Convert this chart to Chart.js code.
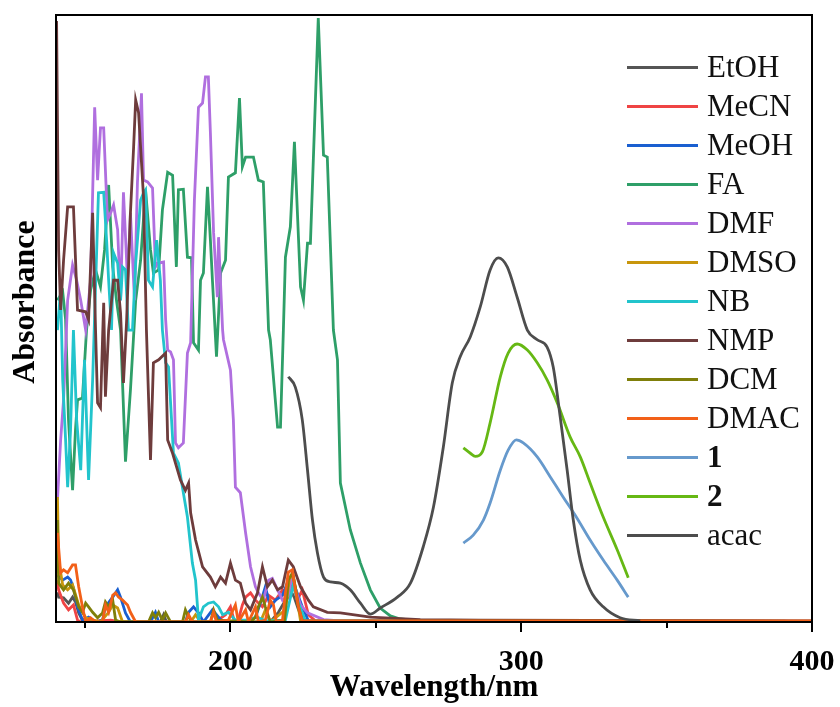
<!DOCTYPE html>
<html>
<head>
<meta charset="utf-8">
<title>UV-Vis absorbance</title>
<script src="https://cdn.jsdelivr.net/npm/chart.js@4.4.1/dist/chart.umd.min.js"></script>
<style>
  html, body { margin: 0; padding: 0; background: #fff; }
  #wrap { width: 840px; height: 707px; }
</style>
</head>
<body>
<div id="wrap"><canvas id="uvChart" width="840" height="707"></canvas></div>
<script>
// wavelength range and axis ticks (nm)
const wavelengthRange = [140, 400];
const majorTicks = [200, 300, 400];
const minorTicks = [150, 250, 350];

// spectra as [wavelength nm, absorbance (normalised)]
const EtOH = [[140.5,0.049],[140.9,0.041],[142.6,0.040],[144.3,0.031],[145.7,0.041],[146.7,0.033],[147.8,0.015],[149.1,0.003],[151.9,0],[175.9,0],[177.0,0.012],[178.0,0],[213.7,0],[216.5,0.016],[218.9,0.036],[220.6,0.053],[222.0,0.040],[223.4,0.020],[225.1,0.002],[400,0.001]];

const MeCN = [[140.5,0.069],[140.9,0.053],[142.6,0.031],[144.3,0.020],[146.0,0.028],[147.4,0.003],[148.5,0],[158.8,0.003],[162.2,0],[194.8,0],[198.3,0.012],[200.0,0.025],[201.4,0],[202.7,0.003],[204.1,0.028],[205.2,0.041],[206.9,0.048],[208.6,0.036],[211.0,0.025],[213.1,0.044],[215.5,0.036],[217.9,0.053],[219.9,0.041],[221.6,0.064],[223.0,0.036],[224.7,0.053],[226.8,0.012],[229.2,0.002],[400,0.001]];

const MeOH = [[140.5,0.077],[142.3,0.069],[144.0,0.074],[145.0,0.069],[146.0,0.056],[147.4,0.025],[149.1,0.003],[151.2,0.008],[153.6,0],[156.0,0.003],[157.0,0.025],[159.5,0.041],[161.2,0.053],[162.2,0.041],[163.9,0.015],[165.6,0],[172.5,0],[174.2,0.016],[175.3,0],[184.5,0],[185.6,0.016],[187.3,0.025],[189.0,0.015],[190.7,0],[193.8,0.020],[195.9,0.008],[197.3,0],[205.2,0],[208.6,0.008],[210.3,0.031],[212.0,0.058],[213.7,0.025],[215.5,0.036],[217.9,0.044],[219.9,0.069],[222.3,0.056],[224.7,0.025],[226.8,0.002],[400,0.001]];

const FA = [[140.5,0.530],[142.3,0.544],[143.3,0.498],[144.3,0.333],[145.7,0.217],[146.7,0.316],[147.4,0.366],[149.1,0.369],[150.5,0.481],[151.9,0.547],[153.6,0.580],[155.3,0.552],[156.7,0.613],[158.1,0.720],[159.5,0.585],[160.8,0.530],[162.2,0.481],[163.9,0.264],[165.6,0.382],[167.4,0.530],[169.1,0.596],[170.8,0.712],[172.5,0.613],[173.5,0.575],[175.3,0.580],[176.6,0.679],[178.4,0.741],[180.1,0.736],[181.4,0.585],[182.1,0.712],[183.8,0.713],[185.2,0.601],[186.6,0.600],[187.3,0.460],[189.0,0.448],[189.7,0.563],[190.7,0.575],[192.1,0.717],[193.1,0.629],[193.8,0.563],[195.2,0.437],[196.6,0.575],[198.3,0.596],[199.3,0.733],[201.7,0.740],[203.1,0.863],[204.1,0.750],[205.2,0.766],[207.9,0.766],[209.6,0.728],[211.3,0.725],[213.1,0.481],[213.7,0.465],[216.2,0.321],[217.2,0.321],[218.2,0.481],[218.9,0.601],[220.6,0.651],[222.0,0.791],[224.1,0.552],[225.1,0.530],[226.5,0.624],[227.5,0.624],[230.2,0.995],[232.0,0.769],[233.3,0.766],[235.4,0.481],[236.8,0.432],[237.8,0.229],[241.2,0.152],[244.7,0.097],[248.1,0.053],[251.5,0.023],[255.0,0.010],[258.4,0.005],[265.3,0.002],[275.6,0.001],[400,0.001]];

const DMF = [[140.5,0.201],[141.6,0.300],[142.6,0.366],[144.0,0.530],[145.7,0.588],[147.1,0.563],[148.5,0.530],[150.2,0.481],[151.9,0.563],[153.3,0.848],[154.3,0.728],[155.3,0.814],[156.4,0.814],[157.7,0.662],[158.8,0.674],[159.8,0.687],[161.2,0.646],[162.2,0.530],[163.2,0.708],[164.6,0.563],[165.6,0.674],[167.0,0.530],[168.0,0.723],[169.4,0.871],[170.1,0.728],[171.5,0.725],[173.2,0.715],[174.2,0.585],[174.9,0.591],[177.0,0.593],[177.7,0.498],[178.4,0.448],[179.4,0.445],[180.4,0.432],[181.1,0.295],[182.1,0.287],[183.8,0.295],[185.2,0.443],[186.3,0.460],[187.6,0.695],[189.0,0.848],[190.4,0.855],[191.4,0.898],[192.4,0.898],[193.1,0.806],[194.2,0.641],[195.5,0.535],[195.9,0.634],[197.3,0.481],[197.6,0.465],[200.0,0.415],[201.0,0.333],[201.7,0.222],[203.4,0.213],[205.2,0.147],[206.9,0.091],[208.6,0.058],[209.6,0.048],[211.3,0.036],[213.1,0.069],[214.4,0.072],[216.2,0.053],[217.9,0.036],[219.9,0.044],[221.3,0.077],[222.7,0.049],[224.1,0.028],[226.5,0.015],[232.0,0.004],[237.8,0.002],[400,0.001]];

const DMSO = [[140.5,0.206],[140.9,0.102],[142.3,0.061],[144.0,0.053],[145.7,0.061],[147.8,0.028],[150.2,0.007],[155.3,0],[158.1,0.016],[159.5,0.028],[161.2,0.023],[162.9,0],[186.3,0],[188.0,0.012],[189.7,0],[210.3,0],[212.0,0.020],[213.7,0],[218.9,0.020],[220.3,0.072],[221.6,0.077],[222.7,0.044],[224.1,0.002],[400,0.001]];

const NB = [[140.5,0.481],[141.6,0.547],[142.3,0.399],[143.3,0.300],[144.0,0.222],[145.0,0.316],[146.0,0.481],[147.1,0.333],[148.5,0.250],[149.8,0.432],[151.2,0.234],[152.6,0.399],[154.0,0.613],[154.6,0.707],[156.4,0.708],[157.4,0.629],[158.1,0.563],[159.1,0.481],[159.8,0.608],[161.2,0.591],[162.2,0.530],[162.9,0.585],[163.9,0.580],[164.9,0.481],[166.3,0.481],[167.4,0.591],[169.1,0.695],[170.1,0.707],[170.8,0.712],[171.8,0.563],[173.2,0.552],[174.6,0.629],[175.9,0.563],[176.6,0.481],[177.7,0.427],[178.7,0.420],[180.4,0.278],[182.1,0.262],[183.8,0.213],[185.2,0.173],[186.9,0.097],[188.0,0.069],[189.0,0.003],[190.7,0.025],[192.4,0.031],[194.2,0.033],[195.9,0.025],[197.3,0.012],[199.3,0.016],[201.7,0.003],[205.2,0.003],[209.3,0.008],[212.0,0.002],[218.9,0.003],[221.6,0.061],[223.0,0.036],[225.8,0.002],[400,0.001]];

const NMP = [[140.2,0.990],[140.5,0.827],[140.9,0.613],[141.6,0.514],[142.6,0.596],[144.0,0.684],[146.0,0.684],[147.4,0.514],[150.2,0.511],[151.2,0.498],[152.6,0.674],[153.6,0.481],[154.3,0.361],[155.3,0.353],[156.0,0.465],[156.4,0.526],[157.0,0.371],[158.1,0.481],[159.8,0.563],[161.2,0.563],[162.2,0.509],[163.2,0.394],[164.3,0.498],[165.6,0.674],[166.7,0.783],[167.4,0.860],[168.4,0.839],[170.1,0.700],[171.1,0.481],[172.5,0.267],[173.5,0.427],[175.3,0.432],[177.0,0.440],[177.7,0.443],[178.4,0.300],[180.1,0.278],[182.8,0.234],[184.5,0.217],[185.6,0.229],[186.3,0.180],[188.0,0.135],[190.4,0.091],[193.1,0.074],[194.8,0.058],[196.6,0.074],[198.3,0.064],[200.0,0.097],[201.7,0.069],[203.4,0.064],[205.2,0.031],[206.9,0.020],[209.3,0.048],[211.0,0.091],[212.7,0.058],[214.4,0.069],[216.2,0.053],[217.9,0.058],[219.9,0.102],[221.6,0.091],[224.1,0.058],[226.8,0.036],[228.5,0.025],[233.3,0.016],[237.8,0.015],[248.1,0.008],[265.3,0.004],[285.9,0.003],[400,0.002]];

const DCM = [[140.5,0.168],[140.9,0.064],[142.6,0.053],[144.3,0.064],[146.0,0.053],[147.8,0.025],[149.1,0.016],[150.2,0.031],[151.2,0.025],[152.6,0.016],[154.3,0.007],[156.0,0.015],[157.0,0.033],[158.1,0.025],[159.5,0.036],[160.5,0.003],[162.2,0],[171.8,0],[173.2,0.015],[174.2,0.007],[175.3,0.016],[176.6,0.003],[177.7,0.015],[179.4,0],[183.5,0],[184.5,0.020],[185.6,0.008],[186.9,0],[193.1,0],[194.2,0.020],[195.5,0.003],[206.9,0],[208.6,0.008],[209.6,0.025],[211.0,0.041],[212.0,0.025],[213.7,0],[218.6,0.003],[219.9,0.069],[221.3,0.081],[222.3,0.058],[223.4,0.025],[224.7,0.002],[400,0.001]];

const DMAC = [[140.5,0.147],[141.6,0.081],[142.6,0.086],[144.0,0.081],[145.7,0.094],[146.7,0.094],[147.8,0.058],[149.1,0.025],[150.2,0],[151.9,0.007],[153.6,0],[156.0,0],[157.0,0.028],[158.1,0.016],[159.5,0.044],[160.5,0.048],[161.5,0.041],[162.9,0.036],[164.6,0.028],[165.6,0.016],[167.4,0],[184.5,0],[185.6,0.012],[186.9,0],[193.1,0],[194.2,0.016],[195.2,0],[199.3,0.003],[201.7,0.028],[202.7,0],[205.2,0.020],[206.2,0],[208.6,0.025],[209.6,0],[212.0,0.003],[213.7,0.036],[214.8,0.028],[215.8,0],[217.9,0.003],[218.9,0.048],[219.9,0.082],[221.3,0.086],[222.3,0.053],[223.4,0.025],[224.7,0.002],[400,0.002]];

const sample1 = [[280.1,0.130],[283.5,0.143],[287.0,0.168],[289.3,0.196],[292.8,0.250],[295.5,0.283],[298.3,0.300],[300.7,0.295],[305.5,0.272],[310.0,0.239],[314.4,0.206],[319.2,0.171],[323.7,0.135],[328.2,0.102],[333.0,0.069],[336.8,0.041]];

const sample2 = [[280.1,0.287],[282.5,0.278],[284.2,0.273],[286.6,0.280],[289.3,0.328],[292.8,0.404],[295.5,0.443],[298.6,0.458],[302.1,0.448],[305.5,0.427],[308.9,0.399],[312.4,0.361],[316.8,0.305],[320.3,0.272],[323.7,0.229],[328.2,0.173],[333.0,0.119],[336.8,0.073]];

const acac = [[219.9,0.404],[222.3,0.387],[224.7,0.333],[226.5,0.250],[228.2,0.168],[229.9,0.114],[232.0,0.074],[234.4,0.066],[237.8,0.064],[241.2,0.053],[244.7,0.031],[248.1,0.013],[251.5,0.023],[257.4,0.041],[261.9,0.064],[266.3,0.124],[269.8,0.189],[273.2,0.288],[276.3,0.394],[279.0,0.437],[282.5,0.470],[285.9,0.519],[289.3,0.580],[292.1,0.600],[295.2,0.585],[298.6,0.535],[302.1,0.481],[305.5,0.465],[308.9,0.453],[311.0,0.420],[313.4,0.338],[315.8,0.250],[317.9,0.168],[320.3,0.102],[323.7,0.053],[328.2,0.025],[334.0,0.007],[340.9,0.002]];

const seriesLabels = ['EtOH', 'MeCN', 'MeOH', 'FA', 'DMF', 'DMSO', 'NB', 'NMP', 'DCM', 'DMAC', '1', '2', 'acac'];
const seriesData = [EtOH, MeCN, MeOH, FA, DMF, DMSO, NB, NMP, DCM, DMAC, sample1, sample2, acac];
const seriesColors = ['#555555', '#ef4444', '#1a5fd0', '#2e9f68', '#b06fdf', '#c8960c', '#22c4cc', '#6e3c3c', '#7f7f0a', '#f26018', '#6699cc', '#66b814', '#4d4d4d'];
const boldLabels = ['1', '2'];
const smoothSeries = ['1', '2', 'acac'];

const serif = '"Liberation Serif", "Times New Roman", serif';

// box frame, outward tick marks and the y title
const framePlugin = {
    id: 'frame',
    afterDraw(chart) {
        const ctx = chart.ctx;
        const area = chart.chartArea;
        const xScale = chart.scales.x;
        ctx.save();
        ctx.strokeStyle = '#000';
        ctx.lineWidth = 2;
        ctx.strokeRect(area.left, area.top, area.right - area.left, area.bottom - area.top);
        ctx.beginPath();
        majorTicks.forEach(v => {
            const px = Math.round(xScale.getPixelForValue(v));
            ctx.moveTo(px, area.bottom);
            ctx.lineTo(px, area.bottom + 10);
        });
        minorTicks.forEach(v => {
            const px = Math.round(xScale.getPixelForValue(v));
            ctx.moveTo(px, area.bottom);
            ctx.lineTo(px, area.bottom + 6);
        });
        ctx.stroke();

        ctx.translate(26, 302);
        ctx.rotate(-Math.PI / 2);
        ctx.fillStyle = '#000';
        ctx.font = 'bold 32px ' + serif;
        ctx.textAlign = 'center';
        ctx.textBaseline = 'middle';
        ctx.fillText('Absorbance', 0, 0);
        ctx.restore();
    }
};

// legend list drawn inside the plot, right side
const insideLegend = {
    id: 'insideLegend',
    afterDraw(chart) {
        const ctx = chart.ctx;
        const lineStart = 627, lineEnd = 698, textX = 707, firstRow = 67.5, rowGap = 39;
        ctx.save();
        chart.data.datasets.forEach((ds, i) => {
            const y = firstRow + i * rowGap;
            ctx.strokeStyle = ds.borderColor;
            ctx.lineWidth = 3;
            ctx.beginPath();
            ctx.moveTo(lineStart, y);
            ctx.lineTo(lineEnd, y);
            ctx.stroke();
            ctx.fillStyle = '#111';
            ctx.font = (boldLabels.includes(ds.label) ? 'bold ' : '') + '31px ' + serif;
            ctx.textAlign = 'left';
            ctx.textBaseline = 'middle';
            ctx.fillText(ds.label, textX, y + 1);
        });
        ctx.restore();
    }
};

const datasets = seriesLabels.map((label, i) => ({
    label: label,
    data: seriesData[i].map(p => ({ x: p[0], y: p[1] })),
    borderColor: seriesColors[i],
    backgroundColor: seriesColors[i],
    borderWidth: 2.8,
    pointRadius: 0,
    fill: false,
    tension: smoothSeries.includes(label) ? 0.35 : 0,
    cubicInterpolationMode: smoothSeries.includes(label) ? 'monotone' : 'default',
    order: -i
}));

const ctx = document.getElementById('uvChart').getContext('2d');

const uvChart = new Chart(ctx, {
    type: 'line',
    data: { datasets: datasets },
    options: {
        responsive: false,
        animation: false,
        layout: { padding: { top: 15, right: 28, left: 0, bottom: 0 } },
        plugins: {
            legend: { display: false },
            tooltip: { enabled: false }
        },
        scales: {
            x: {
                type: 'linear',
                min: wavelengthRange[0],
                max: wavelengthRange[1],
                afterBuildTicks: scale => { scale.ticks = majorTicks.map(v => ({ value: v })); },
                afterFit: scale => {
                    scale.height = 85;
                    scale.paddingLeft = 0;
                    scale.paddingRight = 0;
                },
                grid: { display: false, drawTicks: false },
                border: { display: false },
                ticks: {
                    padding: 22,
                    color: '#000',
                    maxRotation: 0,
                    font: { family: serif, size: 30, weight: 'bold' }
                },
                title: {
                    display: true,
                    text: 'Wavelength/nm',
                    color: '#000',
                    padding: { top: 0, bottom: 0 },
                    font: { family: serif, size: 31, weight: 'bold' }
                }
            },
            y: {
                min: 0,
                max: 1,
                afterFit: scale => { scale.width = 56; },
                grid: { display: false, drawTicks: false },
                border: { display: false },
                ticks: { display: false }
            }
        }
    },
    plugins: [framePlugin, insideLegend]
});
</script>
</body>
</html>
